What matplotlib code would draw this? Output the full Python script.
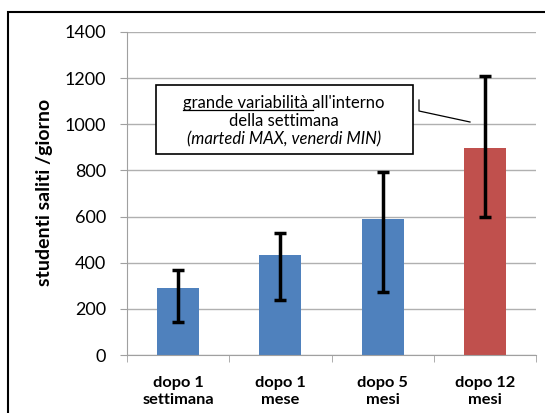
import matplotlib.pyplot as plt
from matplotlib.patches import Rectangle
from matplotlib.lines import Line2D
import numpy as np

categories = ['dopo 1\nsettimana', 'dopo 1\nmese', 'dopo 5\nmesi', 'dopo 12\nmesi']
values = [290, 433, 588, 899]
err_low = [145, 240, 272, 600]     # bottom end of each error bar
err_high = [370, 530, 792, 1208]   # top end of each error bar
colors = ['#4F81BD', '#4F81BD', '#4F81BD', '#C0504D']

plt.rcParams['font.family'] = ['Lato', 'DejaVu Sans']

W, H = 545, 413
fig = plt.figure(figsize=(W / 100, H / 100), dpi=100)
ax = fig.add_axes([127 / W, 1 - 355 / H, (536 - 127) / W, (355 - 32) / H])

x = np.arange(len(categories))
yerr = [np.array(values) - np.array(err_low), np.array(err_high) - np.array(values)]
ax.bar(x, values, width=0.41, color=colors, zorder=2)
ax.errorbar(x, values, yerr=yerr, fmt='none', ecolor='black', elinewidth=2.5,
            capsize=4, capthick=2.5, zorder=3)

ax.set_xlim(-0.5, len(categories) - 0.5)
ax.set_ylim(0, 1400)
ax.set_yticks(range(0, 1401, 200))
ax.tick_params(axis='y', labelsize=13, length=5, color='#a0a0a0', pad=10)
ax.set_xticks(x)
ax.set_xticklabels(categories, fontsize=11.8, fontweight='bold', linespacing=1.3)
ax.set_xticks(np.arange(-0.5, len(categories), 1), minor=True)
ax.tick_params(axis='x', which='major', length=0, pad=15)
ax.tick_params(axis='x', which='minor', length=5, color='#a0a0a0')
ax.grid(axis='y', color='#b0b0b0', linewidth=1, zorder=0)
ax.set_axisbelow(True)
for s in ['top', 'right']:
    ax.spines[s].set_visible(False)
for s in ['left', 'bottom']:
    ax.spines[s].set_color('#a0a0a0')

fig.text(45 / W, 1 - 192 / H, 'studenti saliti /giorno', rotation=90,
         ha='center', va='center', fontsize=14, fontweight='bold')

# annotation box
fig.patches.append(Rectangle((156 / W, 1 - 154 / H), (413 - 156) / W, (154 - 85) / H,
                             transform=fig.transFigure, facecolor='white',
                             edgecolor='black', linewidth=1.2, zorder=5))
cx = 284 / W
fs = 12
line1 = "grande variabilità all'interno"
t1 = fig.text(cx, 1 - 103 / H, line1, ha='center', va='center', fontsize=fs, zorder=6)
fig.text(cx, 1 - 121 / H, 'della settimana', ha='center', va='center', fontsize=fs, zorder=6)
fig.text(cx, 1 - 139 / H, '(martedi MAX, venerdi MIN)', ha='center', va='center',
         fontsize=fs, style='italic', zorder=6)

fig.canvas.draw()
r = fig.canvas.get_renderer()
bb = t1.get_window_extent(r)
tmp = fig.text(0, 0, 'grande variabilità ', fontsize=fs)
w_pre = tmp.get_window_extent(r).width
tmp.remove()
uy = bb.y0 + 1.5
fig.lines.append(Line2D([bb.x0 / W, (bb.x0 + w_pre) / W], [uy / H, uy / H],
                        transform=fig.transFigure, color='black', linewidth=0.9, zorder=7))

# leader line
fig.lines.append(Line2D([419 / W, 419 / W, 470 / W],
                        [1 - 100 / H, 1 - 111 / H, 1 - 122 / H],
                        transform=fig.transFigure, color='black', linewidth=0.9, zorder=6))

# outer frame (cropped on the right and bottom)
fig.patches.append(Rectangle((8 / W, -0.1), 1.2, 1.1 - 12 / H, transform=fig.transFigure,
                             facecolor='none', edgecolor='black', linewidth=1.5))

fig.savefig('out.png', dpi=100)
